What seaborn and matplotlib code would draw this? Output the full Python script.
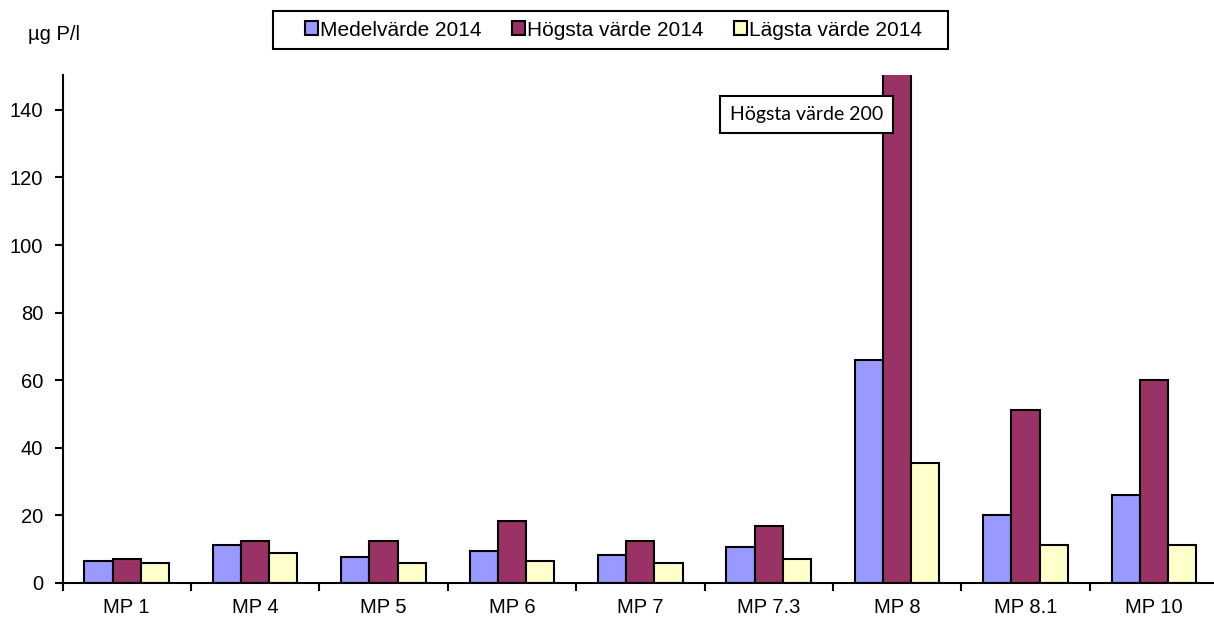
import matplotlib.pyplot as plt
import matplotlib.patches as mpatches
import numpy as np
import pandas as pd
import seaborn as sns

# Data (µg P/l)
stations = ['MP 1', 'MP 4', 'MP 5', 'MP 6', 'MP 7', 'MP 7.3', 'MP 8', 'MP 8.1', 'MP 10']
series = ['Medelvärde 2014', 'Högsta värde 2014', 'Lägsta värde 2014']
medel = [6.5, 11.2, 7.8, 9.5, 8.2, 10.6, 66, 20, 26]
hogsta = [7.1, 12.4, 12.4, 18.3, 12.4, 17, 200, 51.3, 60]
lagsta = [5.9, 8.8, 5.9, 6.5, 5.8, 7, 35.4, 11.2, 11.2]
colors = ['#9999FF', '#993366', '#FFFFCC']
yticks = [0, 20, 40, 60, 80, 100, 120, 140]

df = pd.DataFrame({
    'station': stations * 3,
    'serie': [series[0]] * 9 + [series[1]] * 9 + [series[2]] * 9,
    'value': medel + hogsta + lagsta,
})

sns.set_theme(style='white')
plt.rcParams['font.family'] = ['Liberation Sans', 'DejaVu Sans']
plt.rcParams['text.color'] = 'black'

W, H = 1214, 617
fig = plt.figure(figsize=(W / 100, H / 100), dpi=100)
# axis runs a bit past the right edge of the picture, like the original
ax = fig.add_axes([62.5 / W, 1 - 583 / H, 9 * 128.4 / W, (583 - 75) / H])

sns.barplot(data=df, x='station', y='value', hue='serie', palette=colors, width=0.66,
            edgecolor='black', linewidth=1.5, saturation=1, ax=ax)

handles, labels = ax.get_legend_handles_labels()
ax.get_legend().remove()

ax.set_ylim(0, 150.3)
ax.set_xlim(-0.5, 8.5)
ax.set_yticks(yticks)
ax.set_xticks(np.arange(-0.5, 9, 1), minor=True)
ax.tick_params(axis='x', which='major', length=0, labelsize=14.5, pad=11, colors='black')
ax.tick_params(axis='x', which='minor', length=6, width=1.5, direction='out', bottom=True, color='black')
ax.tick_params(axis='y', length=6, width=1.5, direction='out', left=True, labelsize=14.5, pad=8, colors='black')
ax.set_xlabel('')
ax.set_ylabel('')
for side in ['top', 'right']:
    ax.spines[side].set_visible(False)
for side in ['left', 'bottom']:
    ax.spines[side].set_color('black')
    ax.spines[side].set_linewidth(1.5)

fig.text(28 / W, 1 - 34 / H, 'µg P/l', fontsize=14.5, va='center', ha='left')

# legend without its own frame, box drawn separately (wide padding like Excel)
fig.legend(handles, labels, loc='center', bbox_to_anchor=(613.5 / W, 1 - 30 / H), ncol=3,
           frameon=False, fontsize=15, handlelength=0.62, handleheight=0.62,
           handletextpad=0.1, columnspacing=1.45, borderpad=0, borderaxespad=0)
fig.patches.append(mpatches.Rectangle((273 / W, 1 - 49 / H), 675 / W, 38 / H, transform=fig.transFigure,
                                      facecolor='none', edgecolor='black', linewidth=1.5))

ax.text(4.70, 138.6, 'Högsta värde 200', fontsize=14, family=['Lato', 'DejaVu Sans'],
        va='center', ha='left', zorder=5,
        bbox=dict(boxstyle='square,pad=0.5', facecolor='white', edgecolor='black', linewidth=1.5))

fig.savefig('out.png', dpi=100)
